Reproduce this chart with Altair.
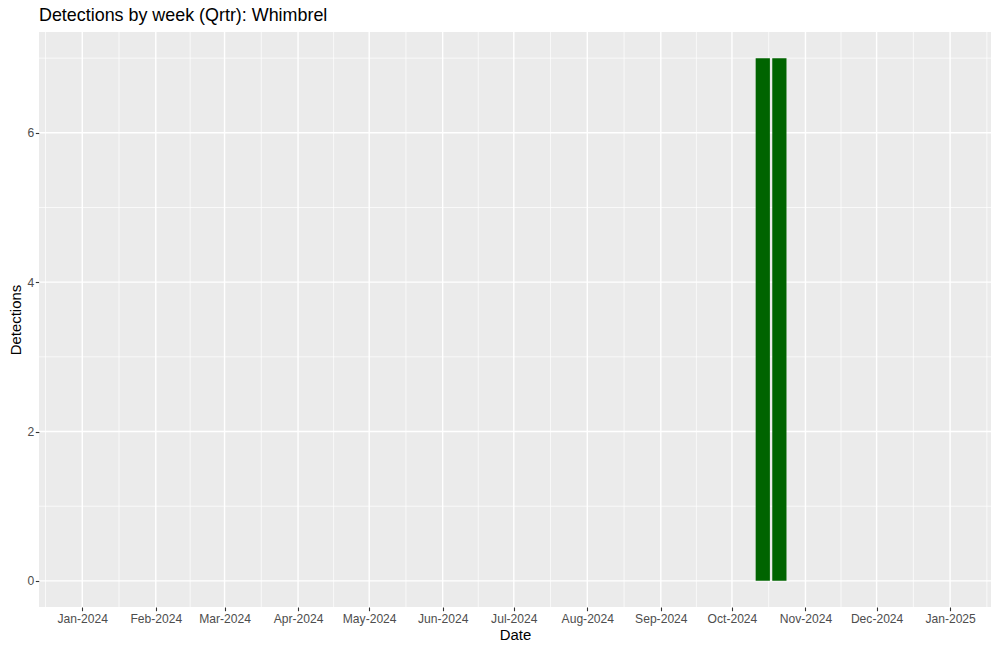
import altair as alt
import pandas as pd

# ---- data ----
week_dates = ["2024-10-14", "2024-10-21"]
detections = [7, 7]

month_breaks = ["2024-01-01", "2024-02-01", "2024-03-01", "2024-04-01", "2024-05-01",
                "2024-06-01", "2024-07-01", "2024-08-01", "2024-09-01", "2024-10-01",
                "2024-11-01", "2024-12-01", "2025-01-01"]
y_major = [0, 2, 4, 6]
y_minor = [1, 3, 5, 7]

title_text = "Detections by week (Qrtr): Whimbrel"

# ---- derived tables ----
bar_half = pd.Timedelta(days=6.0 / 2)
w = pd.to_datetime(week_dates)
bars = pd.DataFrame({
    "start": (w - bar_half).strftime("%Y-%m-%dT%H:%M:%SZ"),
    "end": (w + bar_half).strftime("%Y-%m-%dT%H:%M:%SZ"),
    "n": detections,
})

mb = pd.to_datetime(month_breaks)
ext = [mb[0] - pd.DateOffset(months=1)] + list(mb) + [mb[-1] + pd.DateOffset(months=1)]
mids = [ext[i] + (ext[i + 1] - ext[i]) / 2 for i in range(len(ext) - 1)]
minor_x = pd.DataFrame({"d": [m.strftime("%Y-%m-%dT%H:%M:%SZ") for m in mids]})
major_x = pd.DataFrame({"d": [m.strftime("%Y-%m-%dT%H:%M:%SZ") for m in mb]})
major_y = pd.DataFrame({"v": y_major})
minor_y = pd.DataFrame({"v": y_minor})

lo = pd.Timestamp("2024-01-01") - pd.Timedelta(days=0.05 * 365)
hi = pd.Timestamp("2024-12-31") + pd.Timedelta(days=0.05 * 365)


def dt(ts):
    return alt.DateTime(year=ts.year, month=ts.month, date=ts.day,
                        hours=ts.hour, minutes=ts.minute, utc=True)


x_scale = alt.Scale(type="utc", domain=[dt(lo), dt(hi)])
y_scale = alt.Scale(domain=[-0.35, 7.35], nice=False, zero=False)

x_axis = alt.Axis(values=[dt(m) for m in mb], format="%b-%Y", title="Date",
                  grid=False, labelAngle=0, labelFlush=False, labelOverlap=False)
y_axis = alt.Axis(values=y_major, title="Detections", grid=False, format="d")

X = lambda f: alt.X(f, type="temporal", scale=x_scale, axis=x_axis)
Y = lambda f: alt.Y(f, type="quantitative", scale=y_scale, axis=y_axis)

minor_vx = alt.Chart(minor_x).mark_rule(color="white", strokeWidth=0.7).encode(x=X("d:T"))
minor_hy = alt.Chart(minor_y).mark_rule(color="white", strokeWidth=0.7).encode(y=Y("v:Q"))
major_vx = alt.Chart(major_x).mark_rule(color="white", strokeWidth=1.4).encode(x=X("d:T"))
major_hy = alt.Chart(major_y).mark_rule(color="white", strokeWidth=1.4).encode(y=Y("v:Q"))

bar_layer = alt.Chart(bars).mark_rect(color="#006400").encode(
    x=X("start:T"), x2="end:T", y=Y("n:Q"), y2=alt.datum(0)
)

chart = alt.layer(minor_vx, minor_hy, major_vx, major_hy, bar_layer).properties(
    width=952, height=575,
    autosize=alt.AutoSizeParams(type="none"),
    padding={"left": 31, "top": 24, "right": 1, "bottom": 36},
    title=alt.TitleParams(title_text, anchor="start", frame="group", fontSize=17.9,
                          fontWeight="normal", color="black", baseline="alphabetic",
                          offset=0, dy=8),
).configure(font="Liberation Sans").configure_view(
    fill="#EBEBEB", stroke=None
).configure_axis(
    domain=False, tickColor="#333333", tickWidth=1.1, tickSize=3.7,
    labelColor="#4D4D4D", labelFontSize=12.1, labelPadding=2,
    titleColor="black", titleFontSize=14.9, titleFontWeight="normal",
).configure_axisX(titlePadding=3).configure_axisY(titlePadding=4, labelPadding=1.5)

chart.save("out.html", embed_options={"renderer": "svg", "actions": False})
